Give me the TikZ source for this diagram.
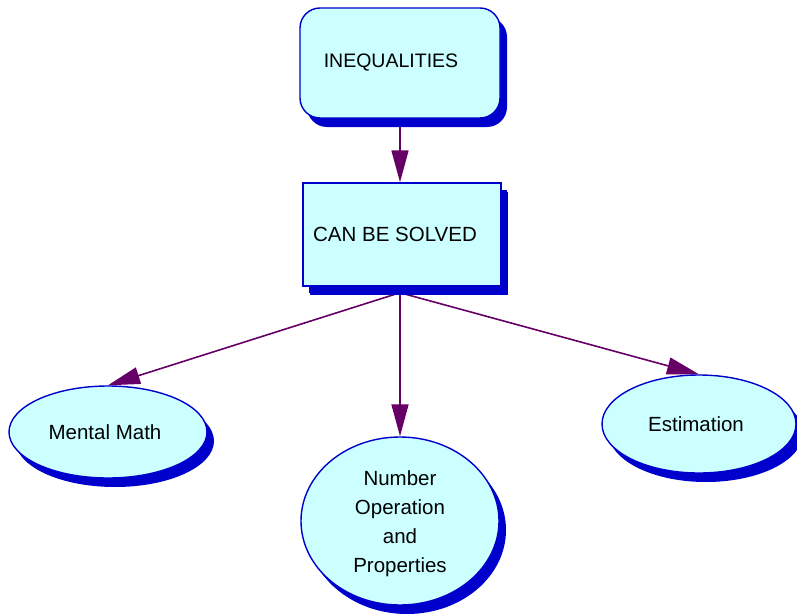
\documentclass[tikz,border=0pt]{standalone}
\usepackage{fontspec}
\setmainfont{Liberation Sans}
\usetikzlibrary{shapes.geometric,shadows,arrows.meta,backgrounds}
\definecolor{boxfill}{HTML}{CCFFFF}
\definecolor{boxline}{HTML}{0000CC}
\definecolor{arrcol}{HTML}{660066}
\tikzset{
  concept/.style={draw=boxline, line width=1.4pt, fill=boxfill, inner sep=0pt,
    font=\fontsize{20.5}{29}\selectfont, align=center,
    drop shadow={shadow xshift=7pt, shadow yshift=-9pt, fill=boxline, opacity=1}},
  rbox/.style={concept, rectangle, rounded corners=20pt},
  sbox/.style={concept, rectangle, drop shadow={shadow xshift=6pt, shadow yshift=-7pt, fill=boxline, opacity=1}},
  ebox/.style={concept, ellipse, drop shadow={shadow xshift=6pt, shadow yshift=-8pt, fill=boxline, opacity=1}},
  arr/.style={draw=arrcol, line width=1.6pt, -{Triangle[length=32pt,width=17pt]}, arrcol}
}
\begin{document}
\begin{tikzpicture}[x=1pt,y=-1pt]
\useasboundingbox (0,0) rectangle (797,615);
\node[rbox, minimum width=200pt, minimum height=110pt] (ineq) at (400,63)
  {\fontsize{19.5}{24}\selectfont INEQUALITIES\hspace{18pt}};
\node[sbox, minimum width=198pt, minimum height=103pt] (solve) at (402,234.5)
  {CAN BE SOLVED\hspace{14pt}};
\node[ebox, minimum width=198pt, minimum height=92pt] (mental) at (108,432)
  {\hspace*{-6pt}\raisebox{-3pt}{Mental Math}};
\node[ebox, minimum width=198pt, minimum height=168pt] (number) at (400,521)
  {\rule{0pt}{21pt}Number\\Operation\\and\\Properties};
\node[ebox, minimum width=194pt, minimum height=98pt] (estim) at (699,424)
  {\hspace*{-6pt}\raisebox{-3pt}{Estimation}};
\begin{pgfonlayer}{background}
\draw[arr] (ineq.south) -- (ineq.south |- solve.north);
\coordinate (hub) at ([yshift=-6pt]number.north |- solve.south);
\draw[arr] (hub) -- (mental.north);
\draw[arr] (hub) -- (number.north);
\draw[arr] (hub) -- (estim.north);
\end{pgfonlayer}
\end{tikzpicture}
\end{document}
